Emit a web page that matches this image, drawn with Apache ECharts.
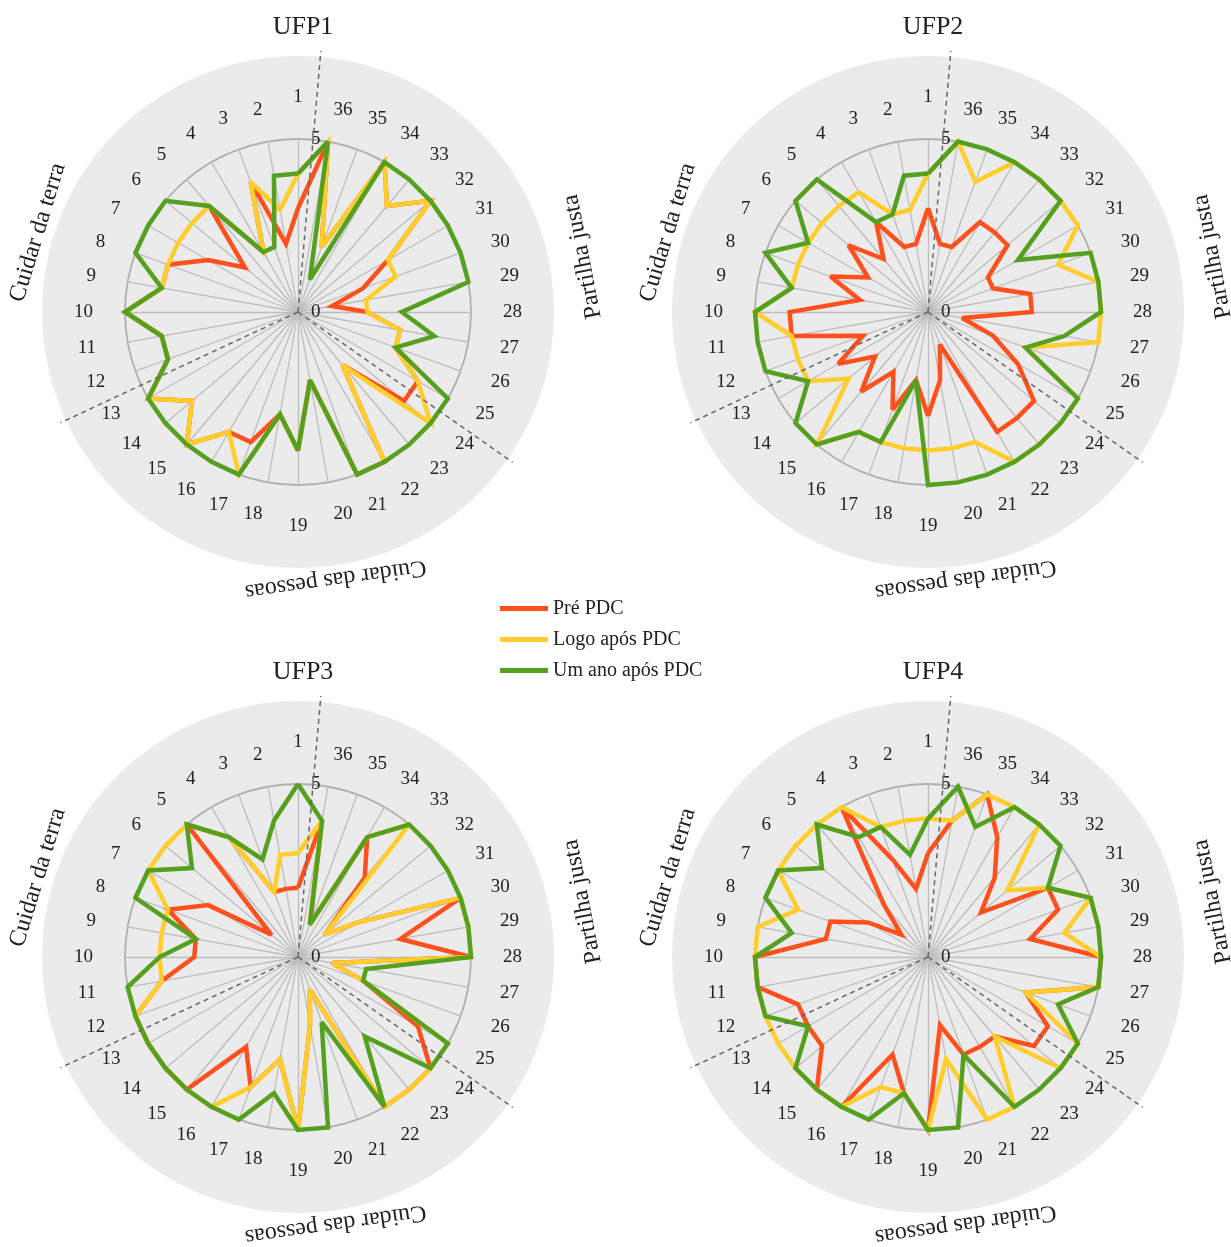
<!DOCTYPE html>
<html>
<head>
<meta charset="utf-8">
<title>UFP</title>
<script src="https://cdn.jsdelivr.net/npm/echarts@6/dist/echarts.min.js"></script>
<style>
html, body { margin: 0; padding: 0; background: #fff; }
#main { width: 1231px; height: 1247px; }
</style>
</head>
<body>
<div id="main"></div>
<script>
var myChart = echarts.init(document.getElementById('main'));

// eixos (indicadores 1..36) e nomes
var indicadores = ['1','2','3','4','5','6','7','8','9','10','11','12','13','14','15','16','17','18',
                   '19','20','21','22','23','24','25','26','27','28','29','30','31','32','33','34','35','36'];
var ufps = ['UFP1', 'UFP2', 'UFP3', 'UFP4'];
var momentos = ['Pré PDC', 'Logo após PDC', 'Um ano após PDC'];
var grupos = ['Cuidar da terra', 'Cuidar das pessoas', 'Partilha justa'];
var escala = [0, 5];

// valores (0 a 5)
var ufp1Pre  = [3,2,4,2,4,2,3,4,4,5,4,4,5,4,5,4,4,3,4,2,5,5,2,4,4,3,3,2,1,2,3,5,4,5,2,5];
var ufp1Logo = [4,3,4,2,4,4,4,4,4,5,4,4,5,4,5,4,5,3,4,2,5,5,2,5,4,3,3,2,2,3,3,5,4,5,2,5];
var ufp1Ano  = [4,4,2,2,4,5,5,5,4,5,4,4,5,5,5,5,5,3,4,2,5,5,5,5,5,3,4,3,5,5,5,5,5,5,1,5];

var ufp2Pre  = [3,2,2,3,2,3,2,3,2,4,4,2,3,2,3,2,3,2,3,2,1,4,4,4,3,2,1,3,3,2,2,3,3,3,2,2];
var ufp2Logo = [4,3,3,4,4,4,4,4,4,5,4,4,4,3,5,4,4,4,4,4,4,5,5,5,5,3,5,5,5,4,5,5,5,5,4,5];
var ufp2Ano  = [4,4,3,3,5,5,4,5,4,5,5,5,4,5,5,4,4,2,5,5,5,5,5,5,5,3,4,5,5,5,3,5,5,5,5,5];

var ufp3Pre  = [2,2,2,4,5,1,3,4,3,3,4,5,5,5,5,3,4,3,5,2,1,5,5,5,4,2,1,5,3,5,2,1,3,4,1,4];
var ufp3Logo = [3,3,2,4,5,5,5,4,4,4,4,5,5,5,5,5,4,3,5,2,1,5,5,5,5,2,1,5,5,5,2,1,5,4,1,4];
var ufp3Ano  = [5,4,3,4,5,4,5,5,3,4,5,5,5,5,5,5,5,4,5,5,2,5,3,5,5,2,2,5,5,5,5,5,5,4,1,4];

var ufp4Pre  = [3,2,3,5,2,1,2,3,3,5,5,4,4,4,5,5,3,4,5,2,3,3,3,4,4,3,5,5,3,4,4,2,3,4,5,4];
var ufp4Logo = [4,4,4,5,5,5,5,4,5,5,5,5,5,5,5,5,4,4,5,3,5,5,3,5,5,3,5,5,4,5,4,3,5,5,5,4];
var ufp4Ano  = [4,3,4,4,5,4,5,5,4,5,5,5,4,5,5,5,5,4,5,5,3,5,5,5,5,4,5,5,5,5,4,5,5,5,4,5];

var dados = [
    [ufp1Pre, ufp1Logo, ufp1Ano],
    [ufp2Pre, ufp2Logo, ufp2Ano],
    [ufp3Pre, ufp3Logo, ufp3Ano],
    [ufp4Pre, ufp4Logo, ufp4Ano]
];

var cores = ['#ff501e', '#ffcd2c', '#55a01f'];
var fonte = '"Liberation Serif", "Times New Roman", serif';
var centros = [[298, 312], [928, 312], [298, 957], [928, 957]];
var raio = 173;

var radares = [];
var series = [];
var titulos = [];
var graficos = [];

for (var k = 0; k < 4; k++) {
    var cx = centros[k][0], cy = centros[k][1];

    var ind = indicadores.map(function (n, i) {
        var o = { name: n, min: 0, max: 5 };
        if (i === 0) {
            // so o eixo 1 mostra 0 e 5, do lado direito
            o.axisLabel = {
                show: true, margin: -13, align: 'left', color: '#222', fontSize: 19, fontFamily: fonte,
                formatter: function (v) { return escala.indexOf(v) >= 0 ? String(v) : ''; }
            };
        }
        return o;
    });

    radares.push({
        center: [cx, cy],
        radius: raio,
        startAngle: 90,
        shape: 'circle',
        splitNumber: 5,
        indicator: ind,
        nameGap: 32,
        axisName: { color: '#222', fontSize: 19, fontFamily: fonte },
        axisLine: { lineStyle: { color: '#bdbdbd', width: 1.3 } },
        axisTick: { show: false },
        axisLabel: { show: false },
        splitArea: { show: false },
        splitLine: { lineStyle: { color: ['rgba(0,0,0,0)', 'rgba(0,0,0,0)', 'rgba(0,0,0,0)', 'rgba(0,0,0,0)', 'rgba(0,0,0,0)', '#b0b0b0'], width: 1.8 } },
        z: 2
    });

    series.push({
        type: 'radar',
        radarIndex: k,
        symbol: 'none',
        z: 3,
        data: momentos.map(function (m, j) {
            return {
                name: m,
                value: dados[k][j],
                itemStyle: { color: cores[j] },
                lineStyle: { color: cores[j], width: 4.5, join: 'miter', miterLimit: 3 }
            };
        })
    });

    titulos.push({
        text: ufps[k], left: cx, top: cy - 303, textAlign: 'center',
        textStyle: { fontSize: 26, fontWeight: 'normal', color: '#222', fontFamily: fonte }
    });

    // disco cinzento de fundo
    graficos.push({
        type: 'circle', shape: { cx: cx, cy: cy, r: 256 },
        style: { fill: '#ebebeb' }, z: -1, silent: true
    });

    // linhas tracejadas entre os grupos
    [85, 205, 325].forEach(function (a) {
        var r = a * Math.PI / 180;
        graficos.push({
            type: 'line',
            shape: { x1: cx, y1: cy, x2: cx + 262 * Math.cos(r), y2: cy - 262 * Math.sin(r) },
            style: { stroke: '#666', lineWidth: 1.5, lineDash: [5, 4] },
            z: 100, silent: true
        });
    });

    // nomes dos grupos
    var pos = [[163, 272, 73], [278, 270, 188], [11, 290, 101]];
    grupos.forEach(function (g, i) {
        var a = pos[i][0] * Math.PI / 180;
        graficos.push({
            type: 'text',
            x: cx + pos[i][1] * Math.cos(a),
            y: cy - pos[i][1] * Math.sin(a),
            rotation: pos[i][2] * Math.PI / 180,
            style: { text: g, fontSize: 24, fontFamily: fonte, fill: '#222', align: 'center', verticalAlign: 'middle' },
            z: 100, silent: true
        });
    });
}

var option = {
    backgroundColor: '#fff',
    title: titulos,
    legend: {
        data: momentos,
        orient: 'vertical',
        left: 495,
        top: 593,
        icon: 'rect',
        itemWidth: 48,
        itemHeight: 5,
        itemGap: 10,
        textStyle: { fontSize: 20, fontFamily: fonte, color: '#222', lineHeight: 21 }
    },
    radar: radares,
    graphic: graficos,
    series: series
};

myChart.setOption(option);
</script>
</body>
</html>
